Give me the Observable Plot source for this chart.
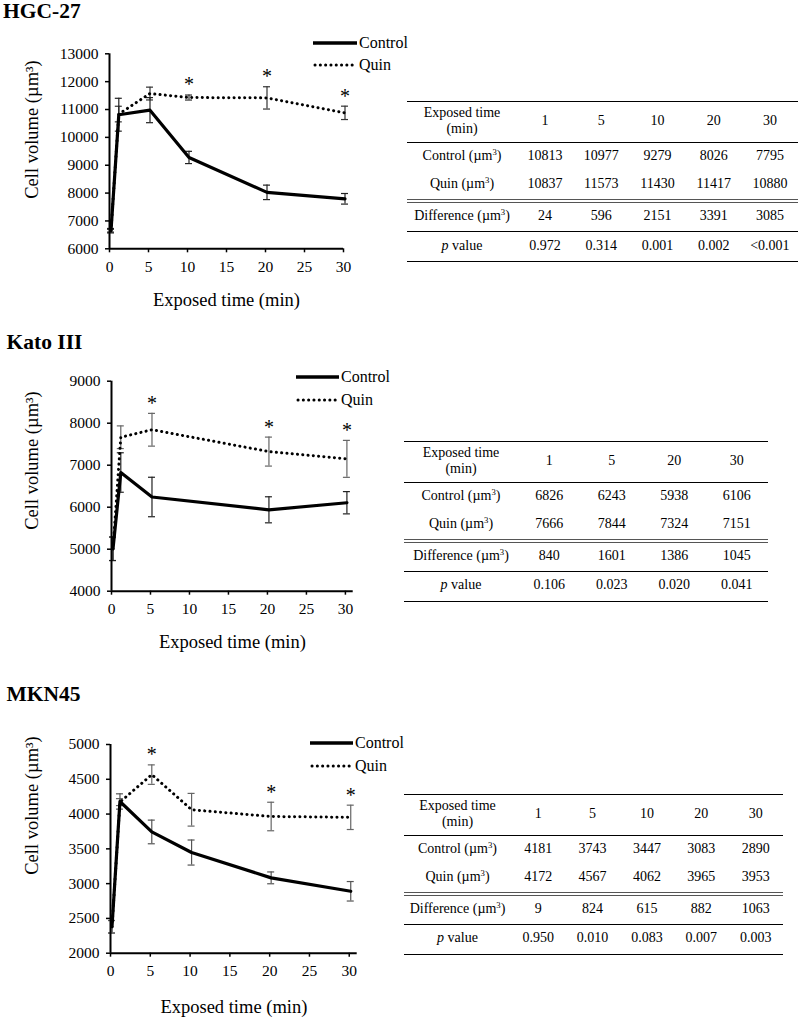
<!DOCTYPE html>
<html>
<head>
<meta charset="utf-8">
<script src="https://cdn.jsdelivr.net/npm/d3@7"></script>
<script src="https://cdn.jsdelivr.net/npm/@observablehq/plot@0.6"></script>
<style>
  body { margin: 0; background: #fff; }
  #root { position: relative; width: 800px; height: 1018px; overflow: hidden; font-family: "Liberation Serif", "Times New Roman", serif; color: #000; }
  .title { position: absolute; font-weight: bold; font-size: 21.5px; line-height: 1.1; white-space: nowrap; }
  .chart { position: absolute; left: 0; }
  .leg { position: absolute; display: flex; align-items: center; font-size: 16px; line-height: 1; white-space: nowrap; }
  .leg svg { display: block; margin-right: 2px; }
  table.tbl { position: absolute; border-collapse: collapse; table-layout: fixed; font-family: "Liberation Serif", "Times New Roman", serif; font-size: 14px; line-height: 16px; }
  table.tbl td { text-align: center; vertical-align: middle; padding: 0 0 2px 0; white-space: nowrap; }
  table.tbl tr.hdr td { height: 38px; }
  table.tbl tr.row td { height: 26px; }
  table.tbl tr.lastrow td { height: 27px; }
  table.tbl { border-top: 1.6px solid #000; border-bottom: 1.6px solid #000; }
  table.tbl tr.hdr td { border-bottom: 1.6px solid #000; }
  table.tbl tr.quin td { border-bottom: 4px double #555; }
  table.tbl tr.diff td { border-bottom: 1.6px solid #000; }
  sup { font-size: 0.62em; vertical-align: 0.55em; line-height: 0; }
</style>
</head>
<body>
<div id="root"></div>
<script>
// ---------------- DATA ----------------
const xTicks = [0, 5, 10, 15, 20, 25, 30];

// HGC-27
const hgcTimes = [0, 1, 5, 10, 20, 30];
const hgcControl = [6650, 10813, 10977, 9279, 8026, 7795];
const hgcControlErr = [80, 590, 450, 220, 260, 190];
const hgcQuin = [6650, 10837, 11573, 11430, 11417, 10880];
const hgcQuinErr = [50, 280, 230, 90, 400, 240];
const hgcSig = [10, 20, 30];
const hgcYTicks = [6000, 7000, 8000, 9000, 10000, 11000, 12000, 13000];
const hgcTableTimes = [1, 5, 10, 20, 30];
const hgcTableControl = [10813, 10977, 9279, 8026, 7795];
const hgcTableQuin = [10837, 11573, 11430, 11417, 10880];
const hgcDiff = [24, 596, 2151, 3391, 3085];
const hgcP = ["0.972", "0.314", "0.001", "0.002", "<0.001"];

// Kato III
const katoTimes = [0, 1, 5, 20, 30];
const katoControl = [5010, 6826, 6243, 5938, 6106];
const katoControlErr = [280, 470, 470, 310, 265];
const katoQuin = [5010, 7666, 7844, 7324, 7151];
const katoQuinErr = [280, 270, 390, 345, 440];
const katoSig = [5, 20, 30];
const katoYTicks = [4000, 5000, 6000, 7000, 8000, 9000];
const katoTableTimes = [1, 5, 20, 30];
const katoTableControl = [6826, 6243, 5938, 6106];
const katoTableQuin = [7666, 7844, 7324, 7151];
const katoDiff = [840, 1601, 1386, 1045];
const katoP = ["0.106", "0.023", "0.020", "0.041"];

// MKN45
const mknTimes = [0, 1, 5, 10, 20, 30];
const mknControl = [2380, 4181, 3743, 3447, 3083, 2890];
const mknControlErr = [90, 110, 170, 180, 85, 140];
const mknQuin = [2380, 4172, 4567, 4062, 3965, 3953];
const mknQuinErr = [90, 50, 140, 235, 205, 175];
const mknSig = [5, 20, 30];
const mknYTicks = [2000, 2500, 3000, 3500, 4000, 4500, 5000];
const mknTableTimes = [1, 5, 10, 20, 30];
const mknTableControl = [4181, 3743, 3447, 3083, 2890];
const mknTableQuin = [4172, 4567, 4062, 3965, 3953];
const mknDiff = [9, 824, 615, 882, 1063];
const mknP = ["0.950", "0.010", "0.083", "0.007", "0.003"];

// ---------------- LAYOUT ----------------
const panels = [
  {
    name: "HGC-27", titleLeft: 3, titleTop: 0,
    times: hgcTimes, control: hgcControl, controlErr: hgcControlErr, quin: hgcQuin, quinErr: hgcQuinErr, sig: hgcSig, yTicks: hgcYTicks,
    svgTop: 30, h: 290, mt: 23.3, mb: 71.7, ml: 109, xr: 343, xdom: [0, 30], ydom: [6000, 13000],
    xtDy: 51.7, ytCenter: [32, 129], errC: "#222", errQ: "#333", dataDx: 1.5,
    legend: {x: 313, len: 44, yC: 43, yQ: 65},
    table: {times: hgcTableTimes, control: hgcTableControl, quin: hgcTableQuin, diff: hgcDiff, p: hgcP, left: 407, top: 101, width: 391, labW: 110}
  },
  {
    name: "Kato III", titleLeft: 6.5, titleTop: 331,
    times: katoTimes, control: katoControl, controlErr: katoControlErr, quin: katoQuin, quinErr: katoQuinErr, sig: katoSig, yTicks: katoYTicks,
    svgTop: 355, h: 300, mt: 25.7, mb: 64.3, ml: 111, xr: 352.7, xdom: [0, 31], ydom: [4000, 9000],
    xtDy: 51, ytCenter: [32, 460], errC: "#222", errQ: "#666", dataDx: 1.5,
    legend: {x: 296, len: 43, yC: 377.3, yQ: 400},
    table: {times: katoTableTimes, control: katoTableControl, quin: katoTableQuin, diff: katoDiff, p: katoP, left: 404, top: 440.5, width: 364, labW: 114}
  },
  {
    name: "MKN45", titleLeft: 6.5, titleTop: 682.5,
    times: mknTimes, control: mknControl, controlErr: mknControlErr, quin: mknQuin, quinErr: mknQuinErr, sig: mknSig, yTicks: mknYTicks,
    svgTop: 715, h: 303, mt: 29, mb: 65.3, ml: 110, xr: 356.7, xdom: [0, 31], ydom: [2000, 5000],
    xtDy: 54, ytCenter: [32, 805], errC: "#555", errQ: "#666", dataDx: 1.5,
    legend: {x: 310, len: 43, yC: 742.7, yQ: 766},
    table: {times: mknTableTimes, control: mknTableControl, quin: mknTableQuin, diff: mknDiff, p: mknP, left: 404, top: 793.5, width: 379, labW: 107}
  }
];

const FONT = '"Liberation Serif", "Times New Roman", serif';
const root = document.getElementById("root");

function makePlot(p) {
  const rows = p.times.map((t, i) => ({t, c: p.control[i], ce: p.controlErr[i], q: p.quin[i], qe: p.quinErr[i]}));
  const sigRows = rows.filter(r => p.sig.includes(r.t));
  const dx = p.dataDx;
  const frameMidY = p.svgTop + (p.mt + (p.h - p.mb)) / 2;
  const errMarks = (key, ekey, color) => [
    Plot.ruleX(rows, {x: "t", y1: d => d[key] - d[ekey], y2: d => d[key] + d[ekey], stroke: color, strokeWidth: 1.2, dx}),
    Plot.ruleY(rows, {x1: "t", x2: "t", y: d => d[key] + d[ekey], inset: -3.5, stroke: color, strokeWidth: 1.2, dx}),
    Plot.ruleY(rows, {x1: "t", x2: "t", y: d => d[key] - d[ekey], inset: -3.5, stroke: color, strokeWidth: 1.2, dx})
  ];
  return Plot.plot({
    width: 400,
    height: p.h,
    marginLeft: p.ml,
    marginRight: 400 - p.xr,
    marginTop: p.mt,
    marginBottom: p.mb,
    x: {domain: p.xdom, label: null},
    y: {domain: p.ydom, label: null},
    style: {fontFamily: FONT, fontSize: "15.5px", color: "#000", background: "transparent", overflow: "visible"},
    marks: [
      Plot.axisY({ticks: p.yTicks, tickFormat: d3.format("d"), tickSize: 4, tickPadding: 7, fontSize: 15.5, strokeWidth: 1.5, label: null}),
      Plot.axisX({ticks: xTicks, tickFormat: d3.format("d"), tickSize: 4, tickPadding: 8, fontSize: 15.5, strokeWidth: 1.5, label: null}),
      ...errMarks("q", "qe", p.errQ),
      ...errMarks("c", "ce", p.errC),
      Plot.line(rows, {x: "t", y: "q", stroke: "#000", strokeWidth: 3, strokeDasharray: "0.1 5.2", strokeLinecap: "round", curve: "linear", dx}),
      Plot.line(rows, {x: "t", y: "c", stroke: "#000", strokeWidth: 3.2, curve: "linear", strokeLinejoin: "round", dx}),
      Plot.ruleX([p.xdom[0]], {stroke: "#000", strokeWidth: 2}),
      Plot.ruleY([p.ydom[0]], {stroke: "#000", strokeWidth: 2}),
      Plot.text(sigRows, {x: "t", y: d => d.q + d.qe, text: () => "*", fontSize: 20, dy: -10, dx}),
      Plot.text(["Exposed time (min)"], {text: d => d, frameAnchor: "bottom", textAnchor: "middle", lineAnchor: "middle", dy: p.xtDy, fontSize: 18.5}),
      Plot.text(["Cell volume (µm³)"], {text: d => d, frameAnchor: "left", textAnchor: "middle", lineAnchor: "middle", rotate: -90, dx: p.ytCenter[0] - p.ml, dy: p.ytCenter[1] - frameMidY, fontSize: 18.5})
    ]
  });
}

function legendItem(x, y, len, label, dotted) {
  const div = document.createElement("div");
  div.className = "leg";
  div.style.left = x + "px";
  div.style.top = (y - 8) + "px";
  div.style.height = "16px";
  const line = dotted
    ? `<line x1="2" y1="3" x2="${len - 2}" y2="3" stroke="#000" stroke-width="3" stroke-linecap="round" stroke-dasharray="0.1 5.2"/>`
    : `<line x1="0" y1="3" x2="${len}" y2="3" stroke="#000" stroke-width="3.4"/>`;
  div.innerHTML = `<svg width="${len}" height="6">${line}</svg><span>${label}</span>`;
  root.appendChild(div);
}

function makeTable(t) {
  const tbl = document.createElement("table");
  tbl.className = "tbl";
  tbl.style.left = t.left + "px";
  tbl.style.top = t.top + "px";
  tbl.style.width = t.width + "px";
  const n = t.times.length;
  const dw = (t.width - t.labW) / n;
  const unit = "(µm<sup>3</sup>)";
  const cells = arr => arr.map(v => `<td>${String(v).replace("<", "&lt;")}</td>`).join("");
  tbl.innerHTML =
    `<colgroup><col style="width:${t.labW}px">${t.times.map(() => `<col style="width:${dw}px">`).join("")}</colgroup>` +
    `<tr class="hdr"><td>Exposed time<br>(min)</td>${cells(t.times)}</tr>` +
    `<tr class="row"><td>Control ${unit}</td>${cells(t.control)}</tr>` +
    `<tr class="row quin"><td>Quin ${unit}</td>${cells(t.quin)}</tr>` +
    `<tr class="row diff"><td>Difference ${unit}</td>${cells(t.diff)}</tr>` +
    `<tr class="lastrow"><td><i>p</i> value</td>${cells(t.p)}</tr>`;
  root.appendChild(tbl);
}

for (const p of panels) {
  const title = document.createElement("div");
  title.className = "title";
  title.style.left = p.titleLeft + "px";
  title.style.top = p.titleTop + "px";
  title.textContent = p.name;
  root.appendChild(title);

  const chart = makePlot(p);
  chart.classList.add("chart");
  chart.style.top = p.svgTop + "px";
  root.appendChild(chart);

  legendItem(p.legend.x, p.legend.yC, p.legend.len, "Control", false);
  legendItem(p.legend.x, p.legend.yQ, p.legend.len, "Quin", true);

  makeTable(p.table);
}
</script>
</body>
</html>
